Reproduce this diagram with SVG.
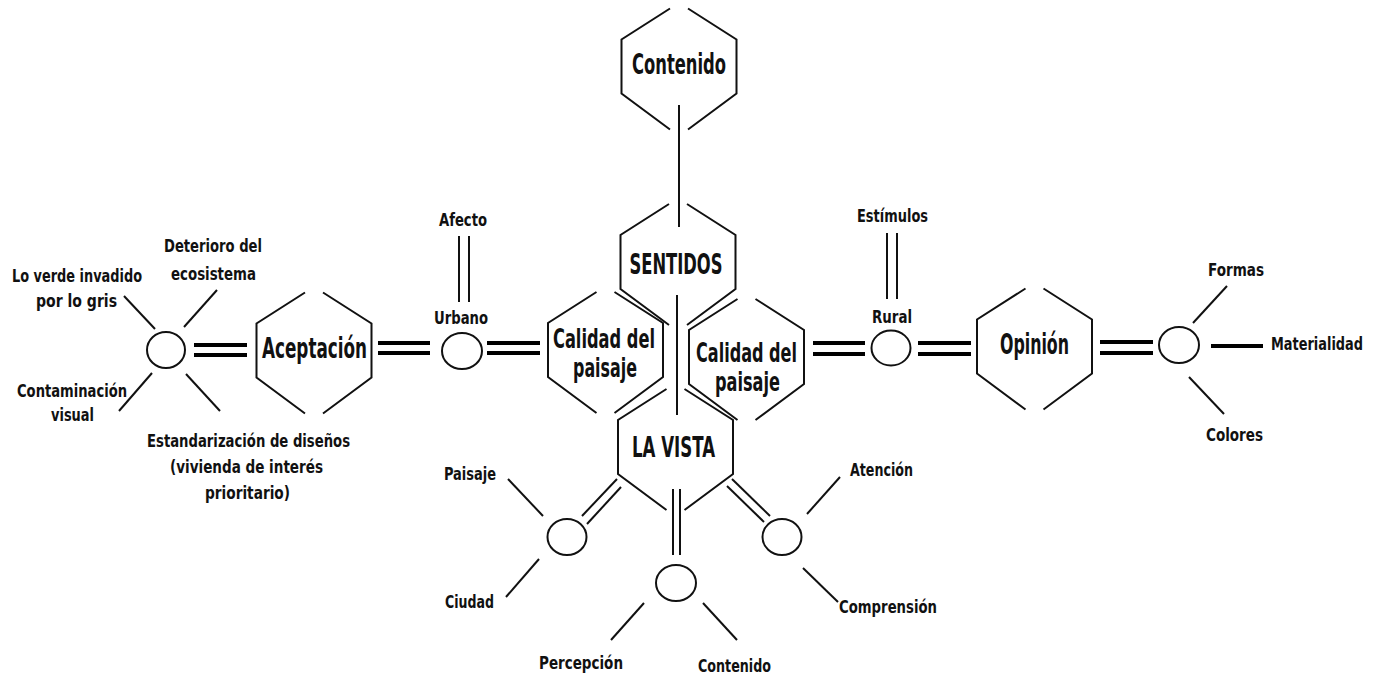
<svg xmlns="http://www.w3.org/2000/svg" xmlns:xlink="http://www.w3.org/1999/xlink" width="1384" height="680" viewBox="0 0 1384 680">
<style>
.hex{fill:none;stroke:#111;stroke-width:2}
.c{fill:#fff;stroke:#111;stroke-width:2}
.t{stroke:#111;stroke-width:2;fill:none}
.k{stroke:#000;stroke-width:4;fill:none}
text{font-family:"Liberation Sans Narrow","DejaVu Sans Condensed","Liberation Sans",sans-serif;font-stretch:condensed;font-weight:bold;fill:#111;text-anchor:middle}
.big{font-size:29px}
.mid{font-size:27px}
.sm{font-size:18px}
</style>
<defs>
<path id="hx" d="M-9,-58 L-57.5,-27 L-57.5,27 L-9,63 M9,-58 L57.5,-27 L57.5,27 L9,63"/>
</defs>
<rect width="1384" height="680" fill="#fff"/>
<g id="connectors">
<line class="t" x1="679" y1="105" x2="679" y2="227"/>
<line class="t" x1="677" y1="295" x2="677" y2="415"/>
<line class="k" x1="194" y1="345" x2="247" y2="345"/>
<line class="k" x1="194" y1="355" x2="247" y2="355"/>
<line class="k" x1="378" y1="343" x2="430" y2="343"/>
<line class="k" x1="378" y1="353" x2="430" y2="353"/>
<line class="k" x1="487" y1="343" x2="540" y2="343"/>
<line class="k" x1="487" y1="353" x2="540" y2="353"/>
<line class="k" x1="813" y1="343" x2="865" y2="343"/>
<line class="k" x1="813" y1="354" x2="865" y2="354"/>
<line class="k" x1="918" y1="343" x2="971" y2="343"/>
<line class="k" x1="918" y1="354" x2="971" y2="354"/>
<line class="k" x1="1100" y1="342" x2="1153" y2="342"/>
<line class="k" x1="1100" y1="353" x2="1153" y2="353"/>
<line class="k" x1="1211" y1="346" x2="1263" y2="346"/>
<line class="t" x1="459" y1="236" x2="459" y2="302"/>
<line class="t" x1="469" y1="236" x2="469" y2="302"/>
<line class="t" x1="887" y1="233" x2="887" y2="299"/>
<line class="t" x1="897" y1="233" x2="897" y2="299"/>
<line class="t" x1="124" y1="296" x2="155" y2="329"/>
<line class="t" x1="217" y1="290" x2="184" y2="327"/>
<line class="t" x1="152" y1="373" x2="119" y2="411"/>
<line class="t" x1="186" y1="374" x2="220" y2="411"/>
<line class="t" x1="1227" y1="286" x2="1193" y2="323"/>
<line class="t" x1="1189" y1="377" x2="1224" y2="414"/>
<line class="t" x1="508" y1="479" x2="543" y2="516"/>
<line class="t" x1="539" y1="559" x2="506" y2="597"/>
<line class="t" x1="617" y1="479" x2="582" y2="516"/>
<line class="t" x1="621" y1="487" x2="587" y2="524"/>
<line class="t" x1="673" y1="489" x2="673" y2="555"/>
<line class="t" x1="680" y1="489" x2="680" y2="555"/>
<line class="t" x1="732" y1="479" x2="770" y2="516"/>
<line class="t" x1="727" y1="486" x2="764" y2="522"/>
<line class="t" x1="840" y1="477" x2="807" y2="514"/>
<line class="t" x1="803" y1="568" x2="838" y2="602"/>
<line class="t" x1="644" y1="603" x2="611" y2="640"/>
<line class="t" x1="703" y1="603" x2="737" y2="640"/>
</g>
<g id="contenido-top"><use href="#hx" class="hex" x="679" y="66.5"/><text class="big" x="679" y="74" textLength="94" lengthAdjust="spacingAndGlyphs">Contenido</text></g>
<g id="sentidos"><use href="#hx" class="hex" x="678" y="262"/><text class="big" x="676" y="274" textLength="93" lengthAdjust="spacingAndGlyphs">SENTIDOS</text></g>
<g id="calidad-left"><use href="#hx" class="hex" x="605.5" y="350"/><text class="mid" x="604" y="348" textLength="102" lengthAdjust="spacingAndGlyphs">Calidad del</text><text class="mid" x="605" y="377" textLength="64" lengthAdjust="spacingAndGlyphs">paisaje</text></g>
<g id="calidad-right"><use href="#hx" class="hex" x="746.5" y="357"/><text class="mid" x="746.5" y="362" textLength="101" lengthAdjust="spacingAndGlyphs">Calidad del</text><text class="mid" x="747.5" y="391" textLength="65" lengthAdjust="spacingAndGlyphs">paisaje</text></g>
<g id="la-vista"><use href="#hx" class="hex" x="675.5" y="447"/><text class="big" x="673.5" y="457" textLength="83" lengthAdjust="spacingAndGlyphs">LA VISTA</text></g>
<g id="aceptacion"><use href="#hx" class="hex" x="314" y="350.5"/><text class="big" x="314.5" y="358" textLength="105" lengthAdjust="spacingAndGlyphs">Aceptación</text></g>
<g id="opinion"><use href="#hx" class="hex" x="1034.5" y="346.5"/><text class="big" x="1034.5" y="354" textLength="69" lengthAdjust="spacingAndGlyphs">Opinión</text></g>
<g id="circle-left"><ellipse class="c" cx="166" cy="350" rx="19" ry="18"/>
<text class="sm" x="213" y="252" textLength="98" lengthAdjust="spacingAndGlyphs">Deterioro del</text>
<text class="sm" x="213.5" y="280" textLength="85" lengthAdjust="spacingAndGlyphs">ecosistema</text>
<text class="sm" x="77" y="282" textLength="130" lengthAdjust="spacingAndGlyphs">Lo verde invadido</text>
<text class="sm" x="76.5" y="307" textLength="81" lengthAdjust="spacingAndGlyphs">por lo gris</text>
<text class="sm" x="72" y="397" textLength="110" lengthAdjust="spacingAndGlyphs">Contaminación</text>
<text class="sm" x="72.5" y="421" textLength="43" lengthAdjust="spacingAndGlyphs">visual</text>
<text class="sm" x="248.5" y="447" textLength="203" lengthAdjust="spacingAndGlyphs">Estandarización de diseños</text>
<text class="sm" x="246.5" y="473" textLength="153" lengthAdjust="spacingAndGlyphs">(vivienda de interés</text>
<text class="sm" x="247.5" y="499" textLength="85" lengthAdjust="spacingAndGlyphs">prioritario)</text>
</g>
<g id="circle-urbano"><ellipse class="c" cx="462" cy="351" rx="20" ry="18"/>
<text class="sm" x="461" y="324" textLength="54" lengthAdjust="spacingAndGlyphs">Urbano</text>
<text class="sm" x="463" y="226" textLength="48" lengthAdjust="spacingAndGlyphs">Afecto</text>
</g>
<g id="circle-rural"><ellipse class="c" cx="891" cy="348" rx="19.5" ry="17.5"/>
<text class="sm" x="892" y="323" textLength="40" lengthAdjust="spacingAndGlyphs">Rural</text>
<text class="sm" x="892.5" y="222" textLength="71" lengthAdjust="spacingAndGlyphs">Estímulos</text>
</g>
<g id="circle-right"><ellipse class="c" cx="1179" cy="345" rx="20" ry="18"/>
<text class="sm" x="1236" y="276" textLength="56" lengthAdjust="spacingAndGlyphs">Formas</text>
<text class="sm" x="1317" y="350" textLength="92" lengthAdjust="spacingAndGlyphs">Materialidad</text>
<text class="sm" x="1234.5" y="441" textLength="57" lengthAdjust="spacingAndGlyphs">Colores</text>
</g>
<g id="circle-bl"><ellipse class="c" cx="567" cy="537" rx="19.5" ry="18"/>
<text class="sm" x="470" y="480" textLength="52" lengthAdjust="spacingAndGlyphs">Paisaje</text>
<text class="sm" x="469.5" y="608" textLength="49" lengthAdjust="spacingAndGlyphs">Ciudad</text>
</g>
<g id="circle-bm"><ellipse class="c" cx="676" cy="583" rx="20" ry="18"/>
<text class="sm" x="581" y="669" textLength="84" lengthAdjust="spacingAndGlyphs">Percepción</text>
<text class="sm" x="734.5" y="672" textLength="73" lengthAdjust="spacingAndGlyphs">Contenido</text>
</g>
<g id="circle-br"><ellipse class="c" cx="782" cy="537" rx="19.5" ry="18"/>
<text class="sm" x="881.5" y="476" textLength="63" lengthAdjust="spacingAndGlyphs">Atención</text>
<text class="sm" x="888" y="613" textLength="98" lengthAdjust="spacingAndGlyphs">Comprensión</text>
</g>
</svg>
